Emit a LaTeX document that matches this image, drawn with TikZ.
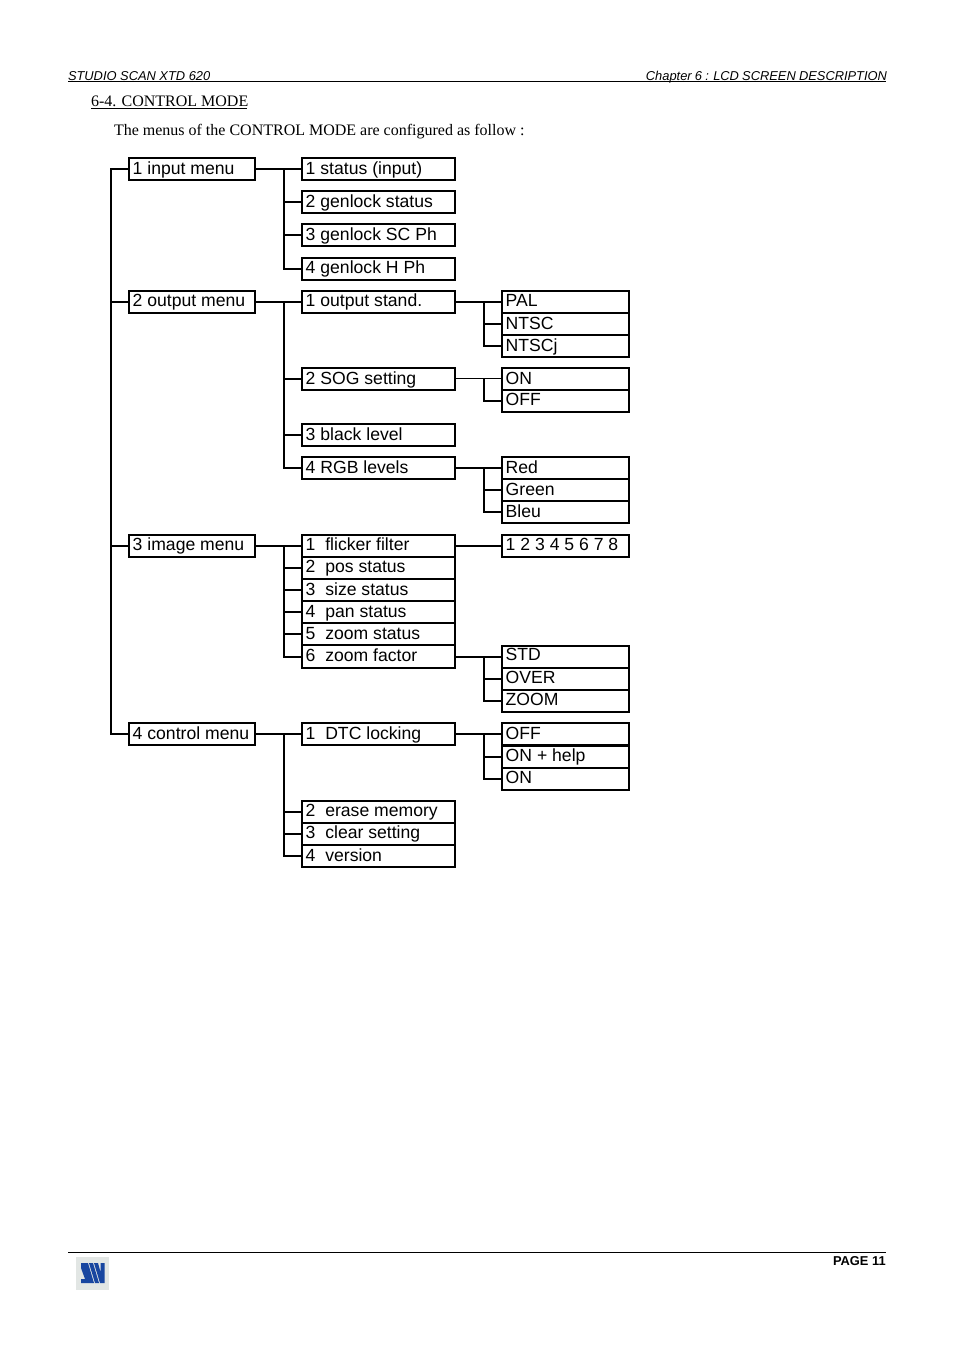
\documentclass[tikz,border=0pt]{standalone}
\usepackage{fontspec}
\setmainfont{Liberation Sans}
\newfontfamily\serifface{Liberation Serif}
\definecolor{logoblue}{RGB}{24,70,160}
\definecolor{logogrey}{RGB}{226,230,228}
\tikzset{
  menubox/.style={draw=black,line width=1.5pt,rectangle,anchor=north west,inner sep=0pt,inner xsep=2.8pt,
    outer sep=0pt,minimum height=16.5pt,text height=12pt,text depth=4.5pt,align=left,
    font=\fontsize{13.2}{15}\selectfont,
    execute at begin node={\spaceskip=0.278em\relax}},
  colA/.style={menubox,text width=88.9pt,minimum width=94.5pt},
  colB/.style={menubox,text width=109.15pt,minimum width=114.75pt},
  colC/.style={menubox,text width=89.65pt,minimum width=95.25pt},
  lowrow/.style={text height=12.75pt,text depth=3.75pt},
  highrow/.style={text height=11.25pt,text depth=5.25pt},
  wire/.style={line width=1.5pt,line cap=rect},
  thinwire/.style={line width=0.75pt},
  rulez/.style={line width=0.75pt},
  headtext/.style={anchor=base west,inner sep=0pt,outer sep=0pt,font=\fontsize{9.65}{11}\selectfont\itshape},
  bodytext/.style={anchor=base west,inner sep=0pt,outer sep=0pt,font=\fontsize{12}{14}\serifface},
}
\begin{document}
\begin{tikzpicture}[x=0.75pt,y=-0.75pt]
\useasboundingbox (0,0) rectangle (954,1351);
% page furniture
\node[headtext] (hl) at (68,81) {STUDIO SCAN XTD 620};
\node[headtext,anchor=base east,execute at begin node={\spaceskip=0.25em\relax}] (hr) at (887,81) {Chapter 6 : LCD SCREEN DESCRIPTION};
\coordinate (hrA) at (68,81.5); \coordinate (hrB) at (886,81.5);
\draw[rulez] (hrA) -- (hrB);
\node[bodytext] (title) at (91,107) {6-4. CONTROL MODE};
\coordinate (tuA) at (91,109); \coordinate (tuB) at (247,109);
\draw[rulez] (tuA) -- (tuB);
\node[bodytext] (intro) at (114,135.5) {The menus of the CONTROL MODE are configured as follow :};
\coordinate (frA) at (68,1252.5); \coordinate (frB) at (886,1252.5);
\draw[rulez] (frA) -- (frB);
\node[anchor=base east,inner sep=0pt,font=\fontsize{9.65}{11}\selectfont\bfseries] (page) at (886,1265) {PAGE 11};
% logo
\fill[logogrey] (76,1257) rectangle (109,1290);
\fill[logoblue] (81,1263) -- (88,1263) -- (94,1283) -- (81,1283) -- (81,1279) -- (85,1279) -- (81,1268) -- cycle;
\fill[logoblue] (89,1263) -- (93,1263) -- (99,1283) -- (95,1283) -- cycle;
\fill[logoblue] (94,1263) -- (98,1263) -- (100.5,1272) -- (100.5,1263) -- (104.5,1263) -- (104.5,1283) -- (100,1283) -- cycle;
% column 1
\node[colA,lowrow] (m1) at (129,158) {1 input menu};
\node[colA] (m2) at (129,291) {2 output menu};
\node[colA,highrow] (m3) at (129,535) {3 image menu};
\node[colA] (m4) at (129,723) {4 control menu};
% input
\node[colB,lowrow] (a1) at (302,158) {1 status (input)};
\node[colB,lowrow] (a2) at (302,191) {2 genlock status};
\node[colB,lowrow] (a3) at (302,224) {3 genlock SC Ph};
\node[colB] (a4) at (302,258) {4 genlock H Ph};
% output
\node[colB] (b1) at (302,291) {1 output stand.};
\node[colB] (b2) at (302,368) {2 SOG setting};
\node[colB] (b3) at (302,424) {3 black level};
\node[colB] (b4) at (302,457) {4 RGB levels};
\node[colC] (p1) at (502,291) {PAL};
\node[colC,lowrow] (p2) at (502,313) {NTSC};
\node[colC,lowrow] (p3) at (502,335) {NTSCj};
\node[colC] (s1) at (502,368) {ON};
\node[colC] (s2) at (502,390) {OFF};
\node[colC] (r1) at (502,457) {Red};
\node[colC] (r2) at (502,479) {Green};
\node[colC] (r3) at (502,501) {Bleu};
% image
\node[colB,highrow] (c1) at (302,535) {1~~flicker filter};
\node[colB,highrow] (c2) at (302,557) {2~~pos status};
\node[colB] (c3) at (302,579) {3~~size status};
\node[colB] (c4) at (302,601) {4~~pan status};
\node[colB] (c5) at (302,623) {5~~zoom status};
\node[colB,minimum height=17.25pt] (c6) at (302,645) {6~~zoom factor};
\node[colC,highrow] (f1) at (502,535) {1 2 3 4 5 6 7 8};
\node[colC,highrow] (z1) at (502,645.5) {STD};
\node[colC,highrow] (z2) at (502,668) {OVER};
\node[colC,highrow] (z3) at (502,690) {ZOOM};
% control
\node[colB] (d1) at (302,723) {1~~DTC locking};
\node[colB,highrow] (d2) at (302,801) {2~~erase memory};
\node[colB,highrow] (d3) at (302,823) {3~~clear setting};
\node[colB] (d4) at (302,845) {4~~version};
\node[colC] (l1) at (502,723) {OFF};
\node[colC,highrow] (l2) at (502,746) {ON + help};
\node[colC,highrow] (l3) at (502,768) {ON};
% connectors
\draw[wire] (m1.west) -- ++(-18,0) |- (m4.west);
\draw[wire] (m2.west) -- ++(-18,0);
\draw[wire] (m3.west) -- ++(-18,0);
\draw[wire] (m1.east) -- (a1.west);
\draw[wire] (a1.west) -- ++(-18,0) |- (a4.west);
\draw[wire] (a2.west) -- ++(-18,0);
\draw[wire] (a3.west) -- ++(-18,0);
\draw[wire] (m2.east) -- (b1.west);
\draw[wire] (b1.west) -- ++(-18,0) |- (b4.west);
\draw[wire] (b2.west) -- ++(-18,0);
\draw[wire] (b3.west) -- ++(-18,0);
\draw[wire] (b1.east) -- (p1.west);
\draw[wire] (p1.west) -- ++(-18,0) |- (p3.west);
\draw[wire] (p2.west) -- ++(-18,0);
\draw[thinwire] (b2.east) -- (s1.west);
\draw[wire] (s1.west) ++(-18,0) |- (s2.west);
\draw[wire] (b4.east) -- (r1.west);
\draw[wire] (r1.west) -- ++(-18,0) |- (r3.west);
\draw[wire] (r2.west) -- ++(-18,0);
\draw[wire] (m3.east) -- (c1.west);
\draw[wire] (c1.west) -- ++(-18,0) |- (c6.west);
\draw[wire] (c2.west) -- ++(-18,0);
\draw[wire] (c3.west) -- ++(-18,0);
\draw[wire] (c4.west) -- ++(-18,0);
\draw[wire] (c5.west) -- ++(-18,0);
\draw[wire] (c1.east) -- (f1.west);
\draw[wire] (c6.east) -- (z1.west);
\draw[wire] (z1.west) -- ++(-18,0) |- (z3.west);
\draw[wire] (z2.west) -- ++(-18,0);
\draw[wire] (m4.east) -- (d1.west);
\draw[wire] (d1.west) -- ++(-18,0) |- (d4.west);
\draw[wire] (d2.west) -- ++(-18,0);
\draw[wire] (d3.west) -- ++(-18,0);
\draw[wire] (d1.east) -- (l1.west);
\draw[wire] (l1.west) -- ++(-18,0) |- (l3.west);
\draw[wire] (l2.west) -- ++(-18,0);
\end{tikzpicture}
\end{document}
